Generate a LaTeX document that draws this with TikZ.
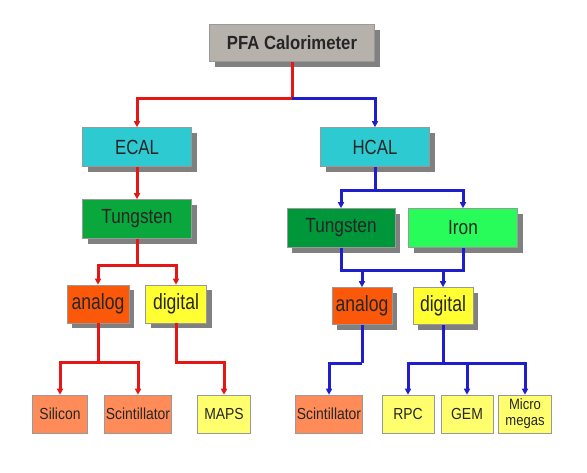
\documentclass[tikz,border=0pt]{standalone}
\usepackage{fontspec}
\setmainfont{Liberation Sans}
\usetikzlibrary{arrows.meta,shadows}
\definecolor{pfagray}{RGB}{182,177,171}
\definecolor{calcyan}{RGB}{45,202,210}
\definecolor{tungE}{RGB}{10,168,60}
\definecolor{tungH}{RGB}{0,150,58}
\definecolor{ironG}{RGB}{40,252,90}
\definecolor{anaC}{RGB}{252,88,10}
\definecolor{digC}{RGB}{255,255,50}
\definecolor{salC}{RGB}{255,140,88}
\definecolor{lyC}{RGB}{255,255,110}
\definecolor{redL}{RGB}{228,22,22}
\definecolor{blueL}{RGB}{30,30,205}
\newcommand{\cx}[2]{\scalebox{#1}[1]{#2}}
\tikzset{
  box/.style={draw=black!40, line width=0.6pt, inner sep=0pt, text=black!85, align=center},
  shad/.style={drop shadow={shadow xshift=5pt, shadow yshift=-5pt, fill=black!55, opacity=0.9}},
  bigbox/.style={box, shad, minimum width=109pt, minimum height=39pt, font=\fontsize{20.5}{22}\selectfont},
  midbox/.style={box, shad, minimum width=61pt, minimum height=38pt, font=\fontsize{22}{24}\selectfont},
  leaf/.style={box, minimum height=38pt, font=\fontsize{16}{17}\selectfont},
  redline/.style={draw=redL, line width=3pt},
  blueline/.style={draw=blueL, line width=3pt},
  tip/.style={-{Triangle[width=6pt,length=6pt]}},
}
\begin{document}
\begin{tikzpicture}[x=1pt,y=-1pt]
\useasboundingbox[fill=white] (0,0) rectangle (587,472);
% nodes
\node[box, shad, fill=pfagray, minimum width=165pt, minimum height=37pt, font=\bfseries\fontsize{19}{21}\selectfont] (pfa) at (292,43) {\cx{0.88}{PFA Calorimeter}};
\node[bigbox, fill=calcyan] (ecal) at (137,147) {\cx{0.82}{ECAL}};
\node[bigbox, fill=calcyan] (hcal) at (375,147) {\cx{0.82}{HCAL}};
\node[bigbox, fill=tungE] (tungE) at (137,219) {\cx{0.84}{Tungsten}};
\node[bigbox, fill=tungH, minimum width=108pt] (tungH) at (341,228) {\cx{0.84}{Tungsten}};
\node[bigbox, fill=ironG] (iron) at (463,228) {\cx{0.84}{Iron}};
\node[midbox, fill=anaC, minimum width=62pt] (anaE) at (98,304) {\cx{0.8}{analog}};
\node[midbox, fill=digC] (digE) at (176,304) {\cx{0.8}{digital}};
\node[midbox, fill=anaC, minimum width=60pt, minimum height=37pt] (anaH) at (362,306) {\cx{0.8}{analog}};
\node[midbox, fill=digC, minimum width=60pt, minimum height=37pt] (digH) at (443,306) {\cx{0.8}{digital}};
\node[leaf, fill=salC, minimum width=55pt] (sil) at (60,414) {\cx{0.87}{Silicon}};
\node[leaf, fill=salC, minimum width=67pt] (sciE) at (138,414) {\cx{0.87}{Scintillator}};
\node[leaf, fill=lyC, minimum width=53pt] (maps) at (224,414) {\cx{0.87}{MAPS}};
\node[leaf, fill=salC, minimum width=67pt] (sciH) at (329,414) {\cx{0.87}{Scintillator}};
\node[leaf, fill=lyC, minimum width=52pt] (rpc) at (408,414) {\cx{0.87}{RPC}};
\node[leaf, fill=lyC, minimum width=52pt] (gem) at (467,414) {\cx{0.87}{GEM}};
\node[leaf, fill=lyC, minimum width=53pt, font=\fontsize{15}{16}\selectfont] (micro) at (525,414) {\cx{0.87}{Micro}\\\cx{0.87}{megas}};
% junction coordinates
\coordinate (s1) at (292,98);
\coordinate (s2) at (375,190);
\coordinate (s3) at (400,270);
\coordinate (s4) at (137,265);
\coordinate (s5) at (98,362);
\coordinate (s6) at (362,363);
% ECAL branch (red)
\draw[redline, tip] (pfa.south) -- (s1) -| (ecal.north);
\draw[blueline, tip] (s1) -| (hcal.north);
\draw[redline, tip] (ecal.south) -- (tungE.north);
\draw[redline] (tungE.south) -- (s4);
\draw[redline, tip] (s4) -| (anaE.north);
\draw[redline, tip] (s4) -| (digE.north);
\draw[redline] (anaE.south) -- (s5);
\draw[redline, tip] (s5) -| (sil.north);
\draw[redline, tip] (s5) -| (sciE.north);
\draw[redline, tip] (digE.south) |- (digE.south |- s5) -| (maps.north);
% HCAL branch (blue)
\draw[blueline] (hcal.south) -- (s2);
\draw[blueline, tip] (s2) -| (tungH.north);
\draw[blueline, tip] (s2) -| (iron.north);
\draw[blueline] (tungH.south) -- (tungH.south |- s3) -- (iron.south |- s3) -- (iron.south);
\draw[blueline, tip] (anaH.north |- s3) -- (anaH.north);
\draw[blueline, tip] (digH.north |- s3) -- (digH.north);
\draw[blueline] (anaH.south) -- (s6);
\draw[blueline, tip] (s6) -| (sciH.north);
\draw[blueline] (digH.south) -- (digH.south |- s6);
\draw[blueline, tip] (digH.south |- s6) -| (rpc.north);
\draw[blueline, tip] (digH.south |- s6) -| (micro.north);
\draw[blueline, tip] (digH.south |- s6) -| (gem.north);
\end{tikzpicture}
\end{document}
